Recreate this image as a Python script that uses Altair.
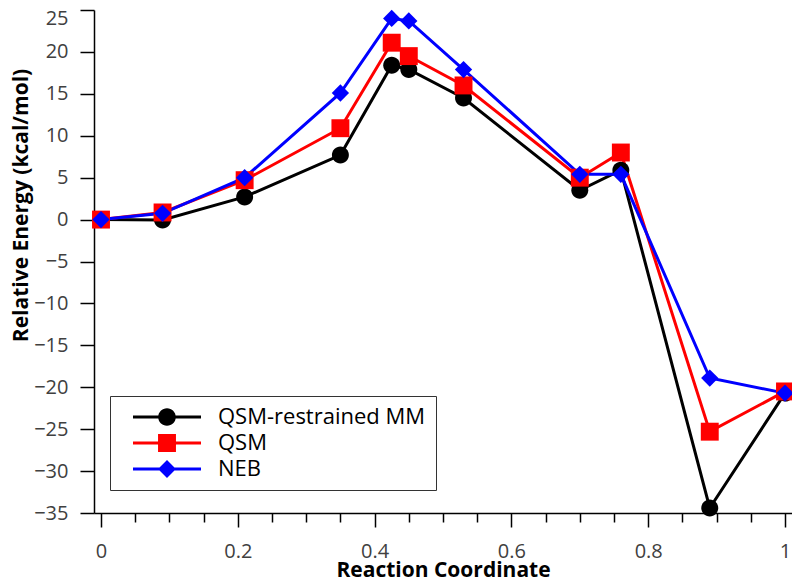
import altair as alt
import pandas as pd

# ---- data ----
x_pos = [0.0, 0.09, 0.21, 0.35, 0.425, 0.45, 0.53, 0.70, 0.76, 0.89, 1.0]
qsm_mm = [0.0, -0.05, 2.7, 7.7, 18.4, 17.9, 14.5, 3.5, 5.9, -34.4, -20.7]
qsm = [0.0, 0.85, 4.7, 10.9, 21.1, 19.5, 16.0, 5.0, 8.0, -25.3, -20.5]
neb = [0.0, 0.75, 5.0, 15.1, 24.0, 23.7, 17.9, 5.4, 5.4, -18.9, -20.7]

series = ["QSM-restrained MM", "QSM", "NEB"]
colors = ["#000000", "#ff0000", "#0000ff"]

x_major = [0, 0.2, 0.4, 0.6, 0.8, 1]
x_minor = [0.05, 0.1, 0.15, 0.25, 0.3, 0.35, 0.45, 0.5, 0.55, 0.65, 0.7, 0.75, 0.85, 0.9, 0.95]
y_ticks = [25, 20, 15, 10, 5, 0, -5, -10, -15, -20, -25, -30, -35]

rows = []
for name, vals in zip(series, [qsm_mm, qsm, neb]):
    for xv, yv in zip(x_pos, vals):
        rows.append({"x": xv, "y": yv, "series": name})
df = pd.DataFrame(rows)

# ---- symbol paths (unit box scaled by sqrt(size)/2) ----
def circle(r):
    return f"M{r},0A{r},{r},0,1,1,{-r},0A{r},{r},0,1,1,{r},0Z"

def square(h):
    return f"M{-h},{-h}L{h},{-h}L{h},{h}L{-h},{h}Z"

def diamond(d):
    return f"M0,{-d}L{d},0L0,{d}L{-d},0Z"

bar = "M-4.25,-0.19L4.25,-0.19L4.25,0.19L-4.25,0.19Z"
plot_paths = [circle(1.06), square(1.12), diamond(1.08)]
legend_paths = [bar + circle(1.1), bar + square(1.12), bar + diamond(1.12)]

FONT = "Open Sans"
PX = 684  # pixels per unit of reaction coordinate
x_scale = alt.Scale(domain=[-7 / PX, 1 + 7 / PX], nice=False, zero=False)
y_scale = alt.Scale(domain=[-35, 25], nice=False, zero=False)

x_axis_major = alt.Axis(
    orient="bottom", values=x_major, format="~g", grid=False,
    domainColor="black", domainWidth=1.5, tickColor="black", tickWidth=1.5, tickSize=14,
    labelFont=FONT, labelFontSize=20, labelColor="#404040", labelPadding=14,
    title="Reaction Coordinate", titleFont=FONT, titleFontSize=21, titleFontWeight="bold",
    titleColor="black", titleBaseline="alphabetic", titleY=63,
)
x_axis_minor = alt.Axis(
    orient="bottom", values=x_minor, grid=False, labels=False, domain=False,
    tickColor="black", tickWidth=1.5, tickSize=9, title=None,
)
y_axis = alt.Axis(
    values=y_ticks, grid=False,
    domainColor="black", domainWidth=1.5, tickColor="black", tickWidth=1.5, tickSize=14,
    labelFont=FONT, labelFontSize=20, labelColor="#404040", labelPadding=12,
    labelOffset={"condition": {"test": "datum.value == 25", "value": 8}, "value": 0},
    title="Relative Energy (kcal/mol)", titleFont=FONT, titleFontSize=21,
    titleFontWeight="bold", titleColor="black", titleAngle=270,
    titleAlign="center", titleBaseline="middle", titleX=-73, titleY=195,
)

leg = alt.Legend(
    title=None, orient="none", legendX=16, legendY=386,
    symbolSize=256, symbolStrokeWidth=0, symbolOpacity=1, symbolOffset=36,
    symbolFillColor="black",
    labelOffset=40, labelFont=FONT, labelFontSize=22, labelColor="black", labelLimit=400,
    padding=10, rowPadding=4, strokeColor="#333333", fillColor="white",
)

base = alt.Chart(df)

lines = base.mark_line(strokeWidth=3).encode(
    x=alt.X("x:Q", scale=x_scale, axis=x_axis_major),
    y=alt.Y("y:Q", scale=y_scale, axis=y_axis),
    stroke=alt.Stroke("series:N", scale=alt.Scale(domain=series, range=colors), legend=None),
)

points = base.mark_point(filled=True, size=256, opacity=1, strokeWidth=0).encode(
    x=alt.X("x:Q", scale=x_scale, axis=x_axis_minor),
    y=alt.Y("y:Q", scale=y_scale, axis=y_axis),
    fill=alt.Fill("series:N", scale=alt.Scale(domain=series, range=colors), legend=None),
    shape=alt.Shape("series:N", scale=alt.Scale(domain=series, range=plot_paths), legend=None),
)

legend_layer = base.transform_filter("false").mark_point(filled=True, size=256, opacity=1).encode(
    x=alt.X("x:Q", scale=x_scale, axis=None),
    y=alt.Y("y:Q", scale=y_scale, axis=y_axis),
    color=alt.Color("series:N", scale=alt.Scale(domain=series, range=colors), legend=leg),
    shape=alt.Shape("series:N", scale=alt.Scale(domain=series, range=legend_paths), legend=leg),
)

chart = (
    alt.layer(lines, points, legend_layer)
    .resolve_scale(shape="independent", color="independent")
    .resolve_axis(x="independent")
    .properties(
        width=PX + 14, height=503,
        autosize=alt.AutoSizeParams(type="none"),
        padding={"left": 86, "top": 2, "right": 0, "bottom": 67},
        background="white",
    )
    .configure_view(stroke=None)
)

chart.save("out.html", embed_options={"renderer": "svg", "actions": False})
